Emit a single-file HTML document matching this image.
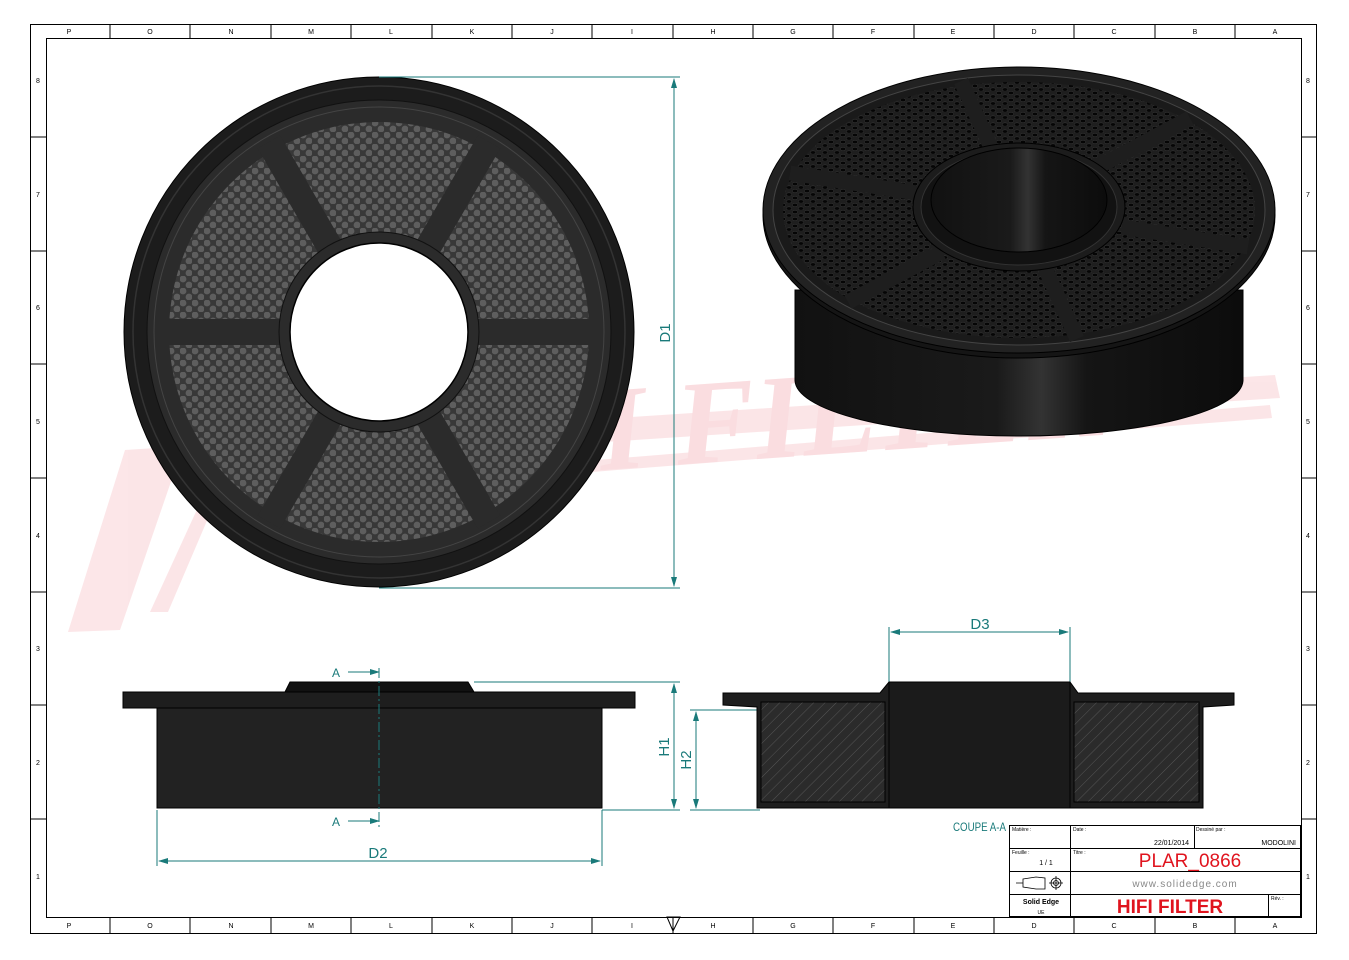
<!DOCTYPE html>
<html><head><meta charset="utf-8"><style>
html,body{margin:0;padding:0;background:#fff}
svg{display:block;font-family:"Liberation Sans",sans-serif}
</style></head><body>
<svg width="1349" height="960" viewBox="0 0 1349 960" xmlns="http://www.w3.org/2000/svg">
<defs>
<pattern id="dots" width="12" height="12" patternUnits="userSpaceOnUse">
<rect width="12" height="12" fill="#383838"/>
<circle cx="3" cy="3" r="3.4" fill="#5e5e5e"/>
<circle cx="9" cy="9" r="3.4" fill="#5e5e5e"/>
</pattern>
<pattern id="dots2" width="12" height="7" patternUnits="userSpaceOnUse">
<rect width="12" height="7" fill="#1e1e1e"/>
<ellipse cx="3" cy="2" rx="2.8" ry="1.7" fill="#050505" stroke="#3a3a3a" stroke-width="0.5"/>
<ellipse cx="9" cy="5.5" rx="2.8" ry="1.7" fill="#050505" stroke="#3a3a3a" stroke-width="0.5"/>
</pattern>
<pattern id="hatch" width="8" height="8" patternUnits="userSpaceOnUse" patternTransform="rotate(45)">
<rect width="8" height="8" fill="#2b2b2b"/>
<line x1="0" y1="0" x2="0" y2="8" stroke="#555" stroke-width="1"/>
</pattern>
<linearGradient id="body" x1="0" x2="1" y1="0" y2="0">
<stop offset="0" stop-color="#111"/><stop offset="0.45" stop-color="#1a1a1a"/><stop offset="0.55" stop-color="#333"/><stop offset="0.65" stop-color="#151515"/><stop offset="1" stop-color="#0c0c0c"/>
</linearGradient>
<marker id="ar" markerWidth="10" markerHeight="6" refX="9" refY="3" orient="auto"><path d="M0,0 L10,3 L0,6 z" fill="#1a7a7a"/></marker>
<marker id="as" markerWidth="10" markerHeight="6" refX="1" refY="3" orient="auto"><path d="M10,0 L0,3 L10,6 z" fill="#1a7a7a"/></marker>
<clipPath id="ann"><path fill-rule="evenodd" d="M379,122 a210,210 0 1 0 0.1,0 z M379,240 a93,93 0 1 0 0.1,0 z"/></clipPath>
</defs>

<!-- watermark -->
<g opacity="0.5">
<polygon points="68,632 125,450 1275,375 1280,398 175,470 120,630" fill="#f9cdd1"/>
<polygon points="150,612 205,492 1270,405 1272,418 215,502 168,612" fill="#f9cdd1"/>
<text x="380" y="470" font-size="120" font-weight="bold" font-style="italic" fill="#f6bcc2" font-family="Liberation Serif,serif" transform="rotate(-4 600 450)">HIFI FILTER</text>
</g>

<!-- frame -->
<rect x="30.5" y="24.5" width="1286" height="909" fill="none" stroke="#000"/>
<rect x="46.5" y="38.5" width="1255" height="879" fill="none" stroke="#000"/>
<g stroke="#000" stroke-width="1">
<path d="M110,24v14M190,24v14M271,24v14M351,24v14M432,24v14M512,24v14M592,24v14M673,24v14M753,24v14M833,24v14M914,24v14M994,24v14M1074,24v14M1155,24v14M1235,24v14"/>
<path d="M110,917v16M190,917v16M271,917v16M351,917v16M432,917v16M512,917v16M592,917v16M673,917v16M753,917v16M833,917v16M914,917v16M994,917v16M1074,917v16M1155,917v16M1235,917v16"/>
<path d="M30,137h16M30,251h16M30,364h16M30,478h16M30,592h16M30,705h16M30,819h16"/>
<path d="M1301,137h15M1301,251h15M1301,364h15M1301,478h15M1301,592h15M1301,705h15M1301,819h15"/>
</g>
<g font-size="7" fill="#000" text-anchor="middle">
<text x="69" y="928">P</text><text x="150" y="928">O</text><text x="231" y="928">N</text><text x="311" y="928">M</text><text x="391" y="928">L</text><text x="472" y="928">K</text><text x="552" y="928">J</text><text x="632" y="928">I</text><text x="713" y="928">H</text><text x="793" y="928">G</text><text x="873" y="928">F</text><text x="953" y="928">E</text><text x="1034" y="928">D</text><text x="1114" y="928">C</text><text x="1195" y="928">B</text><text x="1275" y="928">A</text>
<text x="1308" y="83">8</text><text x="1308" y="197">7</text><text x="1308" y="310">6</text><text x="1308" y="424">5</text><text x="1308" y="538">4</text><text x="1308" y="651">3</text><text x="1308" y="765">2</text><text x="1308" y="879">1</text>
<text x="38" y="83">8</text><text x="38" y="197">7</text><text x="38" y="310">6</text><text x="38" y="424">5</text><text x="38" y="538">4</text><text x="38" y="651">3</text><text x="38" y="765">2</text><text x="38" y="879">1</text>
<text x="69" y="34">P</text><text x="150" y="34">O</text><text x="231" y="34">N</text><text x="311" y="34">M</text><text x="391" y="34">L</text><text x="472" y="34">K</text><text x="552" y="34">J</text><text x="632" y="34">I</text><text x="713" y="34">H</text><text x="793" y="34">G</text><text x="873" y="34">F</text><text x="953" y="34">E</text><text x="1034" y="34">D</text><text x="1114" y="34">C</text><text x="1195" y="34">B</text><text x="1275" y="34">A</text>
</g>
<path d="M667,917 L680,917 L673,931 z" fill="none" stroke="#000"/>

<!-- front view -->
<circle cx="379" cy="332" r="255" fill="#1c1c1c" stroke="#000"/>
<circle cx="379" cy="332" r="246" fill="none" stroke="#333" stroke-width="1.5"/>
<circle cx="379" cy="332" r="232" fill="#2b2b2b" stroke="#111"/>
<circle cx="379" cy="332" r="225" fill="none" stroke="#444"/>
<g clip-path="url(#ann)"><rect x="160" y="110" width="440" height="440" fill="url(#dots)"/></g>
<g stroke="#2b2b2b" stroke-width="26">
<line x1="160" y1="332" x2="600" y2="332"/>
<line x1="269" y1="142" x2="489" y2="522"/>
<line x1="489" y1="142" x2="269" y2="522"/>
</g>
<circle cx="379" cy="332" r="100" fill="#2b2b2b" stroke="#111"/>
<circle cx="379" cy="332" r="89" fill="#fff" stroke="#000" stroke-width="1.5"/>

<!-- D1 dimension -->
<g stroke="#1a7a7a" fill="none">
<line x1="379" y1="77" x2="680" y2="77"/>
<line x1="379" y1="588" x2="680" y2="588"/>
<line x1="674" y1="79" x2="674" y2="586" marker-start="url(#as)" marker-end="url(#ar)"/>
</g>
<text x="670" y="333" font-size="15" fill="#1a7a7a" text-anchor="middle" transform="rotate(-90 670 333)">D1</text>

<!-- iso view -->
<path d="M795,290 L795,380 A224,56 0 0 0 1243,380 L1243,290 z" fill="url(#body)" stroke="#000"/>
<ellipse cx="1019" cy="215" rx="256" ry="143" fill="#151515" stroke="#000"/>
<ellipse cx="1019" cy="210" rx="256" ry="143" fill="#222" stroke="#000"/>
<ellipse cx="1019" cy="210" rx="246" ry="135" fill="#1a1a1a" stroke="#444"/>
<ellipse cx="1019" cy="210" rx="236" ry="128" fill="url(#dots2)"/>
<g stroke="#1e1e1e" stroke-width="15">
<line x1="993" y1="152" x2="961" y2="81"/>
<line x1="1096" y1="168" x2="1190" y2="118"/>
<line x1="1122" y1="227" x2="1248" y2="247"/>
<line x1="1045" y1="268" x2="1077" y2="339"/>
<line x1="942" y1="252" x2="848" y2="302"/>
<line x1="916" y1="193" x2="790" y2="173"/>
</g>
<ellipse cx="1019" cy="207" rx="106" ry="64" fill="#1c1c1c" stroke="#000"/>
<ellipse cx="1019" cy="207" rx="98" ry="58" fill="#121212" stroke="#333"/>
<ellipse cx="1019" cy="200" rx="88" ry="52" fill="url(#body)" stroke="#000"/>

<!-- side view -->
<path d="M285,692 L290,682 L468,682 L474,692 z" fill="#111" stroke="#000"/>
<rect x="123" y="692" width="512" height="16" fill="#1e1e1e" stroke="#000"/>
<rect x="157" y="708" width="445" height="100" fill="#222" stroke="#000"/>
<line x1="379" y1="668" x2="379" y2="828" stroke="#1a7a7a" stroke-dasharray="10,3,2,3"/>
<g stroke="#1a7a7a" fill="none">
<line x1="348" y1="672" x2="379" y2="672" marker-end="url(#ar)"/>
<line x1="348" y1="821" x2="379" y2="821" marker-end="url(#ar)"/>
<line x1="157" y1="810" x2="157" y2="866"/>
<line x1="602" y1="810" x2="602" y2="866"/>
<line x1="159" y1="861" x2="600" y2="861" marker-start="url(#as)" marker-end="url(#ar)"/>
<line x1="474" y1="682" x2="680" y2="682"/>
<line x1="602" y1="810" x2="680" y2="810"/>
<line x1="674" y1="684" x2="674" y2="808" marker-start="url(#as)" marker-end="url(#ar)"/>
<line x1="690" y1="710" x2="760" y2="710"/>
<line x1="690" y1="810" x2="760" y2="810"/>
<line x1="696" y1="712" x2="696" y2="808" marker-start="url(#as)" marker-end="url(#ar)"/>
<line x1="889" y1="627" x2="889" y2="682"/>
<line x1="1070" y1="627" x2="1070" y2="682"/>
<line x1="891" y1="632" x2="1068" y2="632" marker-start="url(#as)" marker-end="url(#ar)"/>
</g>
<g fill="#1a7a7a" font-size="15" text-anchor="middle">
<text x="336" y="677" font-size="12">A</text>
<text x="336" y="826" font-size="12">A</text>
<text x="378" y="858">D2</text>
<text x="669" y="747" transform="rotate(-90 669 747)">H1</text>
<text x="691" y="760" transform="rotate(-90 691 760)">H2</text>
<text x="980" y="629">D3</text>
</g>
<text x="953" y="831" font-size="12" fill="#1a7a7a" textLength="53" lengthAdjust="spacingAndGlyphs">COUPE A-A</text>

<!-- section view -->
<path d="M723,693 L880,693 L889,682 L1070,682 L1078,693 L1234,693 L1234,705 L1203,707 L1203,808 L757,808 L757,707 L723,705 z" fill="#1e1e1e" stroke="#000"/>
<rect x="761" y="702" width="124" height="100" fill="url(#hatch)" stroke="#000"/>
<rect x="1074" y="702" width="125" height="100" fill="url(#hatch)" stroke="#000"/>
<rect x="889" y="682" width="181" height="126" fill="#1b1b1b" stroke="#000"/>

<!-- title block -->
<rect x="1009.5" y="825.5" width="291" height="91" fill="#fff"/>
<g stroke="#000" fill="none">
<rect x="1009.5" y="825.5" width="291" height="91"/>
<line x1="1009" y1="848.5" x2="1301" y2="848.5"/>
<line x1="1009" y1="871.5" x2="1301" y2="871.5"/>
<line x1="1009" y1="894.5" x2="1301" y2="894.5"/>
<line x1="1070.5" y1="825" x2="1070.5" y2="917"/>
<line x1="1194.5" y1="825" x2="1194.5" y2="849"/>
<line x1="1268.5" y1="894" x2="1268.5" y2="917"/>
</g>
<g font-size="5" fill="#000">
<text x="1012" y="831">Matière :</text><text x="1073" y="831">Date :</text><text x="1196" y="831">Dessiné par :</text>
<text x="1012" y="854">Feuille :</text><text x="1073" y="854">Titre :</text><text x="1271" y="900">Rév. :</text>
</g>
<text x="1189" y="845" font-size="7" text-anchor="end">22/01/2014</text>
<text x="1296" y="845" font-size="7" text-anchor="end">MODOLINI</text>
<text x="1046" y="865" font-size="7" text-anchor="middle">1 / 1</text>
<text x="1190" y="867" font-size="19" fill="#e0141e" text-anchor="middle">PLAR_0866</text>
<text x="1185" y="887" font-size="10" fill="#888" text-anchor="middle" letter-spacing="1">www.solidedge.com</text>
<text x="1170" y="913" font-size="19" font-weight="bold" fill="#e0141e" text-anchor="middle">HIFI FILTER</text>
<text x="1041" y="904" font-size="7" font-weight="bold" text-anchor="middle">Solid Edge</text>
<text x="1041" y="914" font-size="5" text-anchor="middle">UE</text>
<g stroke="#000" fill="none" stroke-width="0.8">
<path d="M1016,883h7 M1023,879 L1036,877 L1045,878 L1045,889 L1036,889 L1023,887 z"/>
<circle cx="1056" cy="883" r="5"/><circle cx="1056" cy="883" r="2.5"/><path d="M1049,883h14M1056,876v14"/>
</g>
</svg>
</body></html>
